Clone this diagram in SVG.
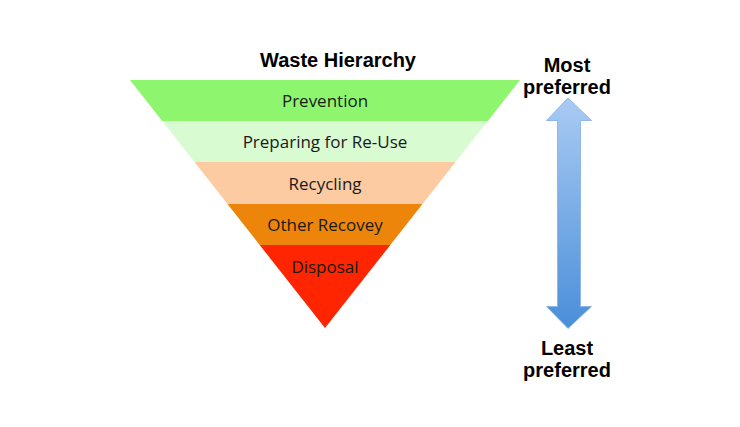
<svg xmlns="http://www.w3.org/2000/svg" width="740" height="427" viewBox="0 0 740 427">
<style>
.title{font-family:"Liberation Sans",Arial,sans-serif;font-weight:bold;font-size:20px;fill:#000;text-anchor:middle}
.lbl{font-family:"Open Sans","Liberation Sans",sans-serif;font-size:17px;fill:#1a1a1a;text-anchor:middle}
</style>
<defs>
<linearGradient id="ag" x1="0" y1="0" x2="0" y2="1">
<stop offset="0" stop-color="#a9cbf3"/>
<stop offset="1" stop-color="#4a8ed9"/>
</linearGradient>
</defs>
<rect width="740" height="427" fill="#fff"/>
<text class="title" x="338" y="67">Waste Hierarchy</text>
<g id="prevention">
<polygon points="130,80 520,80 487.8,121 162.2,121" fill="#8ef66e"/>
<text class="lbl" x="325" y="107">Prevention</text>
</g>
<g id="preparing">
<polygon points="162.2,121 487.8,121 455.5,162 194.5,162" fill="#d8fbd2"/>
<text class="lbl" x="325" y="148">Preparing for Re-Use</text>
</g>
<g id="recycling">
<polygon points="194.5,162 455.5,162 422.5,204 227.5,204" fill="#fccba1"/>
<text class="lbl" x="325" y="190">Recycling</text>
</g>
<g id="other">
<polygon points="227.5,204 422.5,204 390.3,245 259.7,245" fill="#ed850a"/>
<text class="lbl" x="325" y="231">Other Recovey</text>
</g>
<g id="disposal">
<polygon points="259.7,245 390.3,245 325,328" fill="#fe2500"/>
<text class="lbl" x="325" y="273">Disposal</text>
</g>
<g id="connectors">
<polygon points="568,98 591.5,120.5 580.5,120.5 580.5,306.5 591.5,306.5 568,328.5 546.5,306.5 557.5,306.5 557.5,120.5 546.5,120.5" fill="url(#ag)" stroke="#8fb8ea" stroke-width="1"/>
</g>
<g id="most">
<text class="title" x="567" y="72">Most</text>
<text class="title" x="567" y="94">preferred</text>
</g>
<g id="least">
<text class="title" x="567" y="355">Least</text>
<text class="title" x="567" y="377">preferred</text>
</g>
</svg>
